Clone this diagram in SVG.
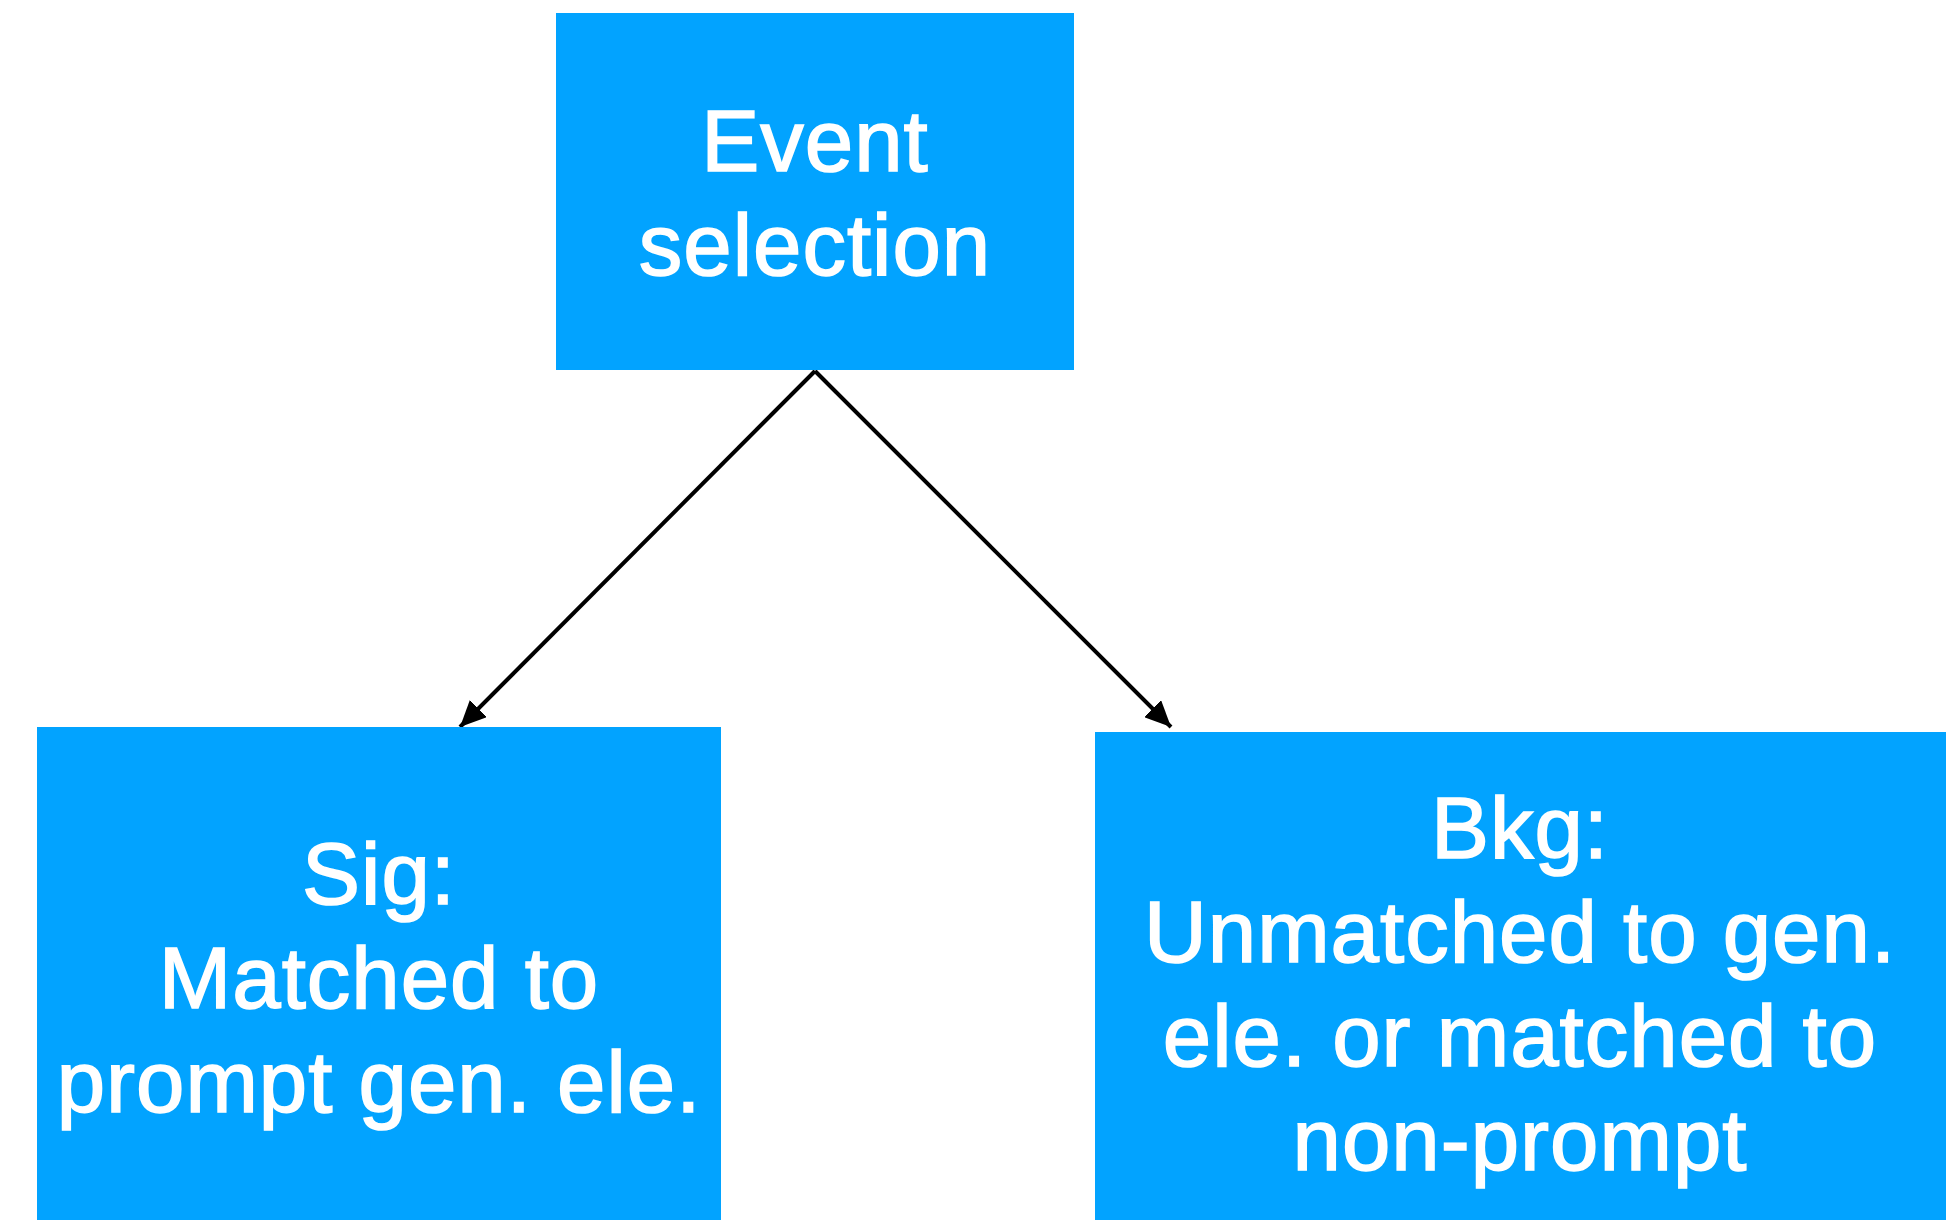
<svg xmlns="http://www.w3.org/2000/svg" width="1946" height="1220" viewBox="0 0 1946 1220">
<style>
.box{fill:#02A3FF}
.lbl{font-family:"Liberation Sans",Arial,sans-serif;font-size:87px;fill:#fff;stroke:#fff;stroke-width:1.6;text-anchor:middle;letter-spacing:1px}
.edge{stroke:#000;stroke-width:4;fill:none}
</style>
<defs>
<marker id="ah" viewBox="0 0 26 24" refX="26" refY="12" markerWidth="26" markerHeight="24" markerUnits="userSpaceOnUse" orient="auto">
<path d="M0,0 L26,12 L0,24 z" fill="#000"/>
</marker>
</defs>
<rect width="1946" height="1220" fill="#fff"/>
<g id="connectors">
<line class="edge" x1="815" y1="371" x2="460" y2="727" marker-end="url(#ah)"/>
<line class="edge" x1="815" y1="371" x2="1171" y2="727" marker-end="url(#ah)"/>
</g>
<g id="event-selection">
<rect class="box" x="556" y="13" width="518" height="357"/>
<text class="lbl" x="815" y="171">Event</text>
<text class="lbl" x="815" y="275">selection</text>
</g>
<g id="sig">
<rect class="box" x="37" y="727" width="684" height="493"/>
<text class="lbl" x="379" y="904">Sig:</text>
<text class="lbl" x="379" y="1008">Matched to</text>
<text class="lbl" x="379" y="1112">prompt gen. ele.</text>
</g>
<g id="bkg">
<rect class="box" x="1095" y="732" width="851" height="488"/>
<text class="lbl" x="1520" y="858">Bkg:</text>
<text class="lbl" x="1520" y="962">Unmatched to gen.</text>
<text class="lbl" x="1520" y="1066">ele. or matched to</text>
<text class="lbl" x="1520" y="1170">non-prompt</text>
</g>
</svg>
